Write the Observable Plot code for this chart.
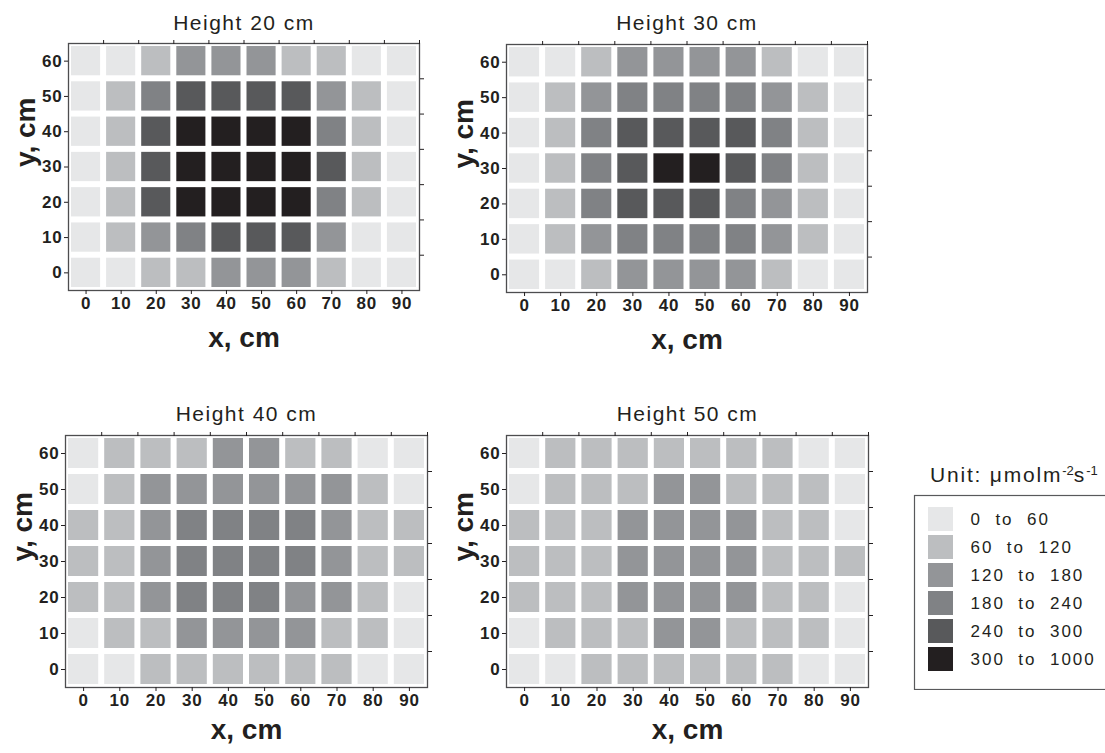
<!DOCTYPE html>
<html>
<head>
<meta charset="utf-8">
<script src="https://cdn.jsdelivr.net/npm/d3@7"></script>
<script src="https://cdn.jsdelivr.net/npm/@observablehq/plot@0.6"></script>
<style>
  html, body { margin: 0; padding: 0; background: #fff; overflow: hidden; }
  #root { position: relative; width: 1105px; height: 753px; overflow: hidden; background: #fff;
          font-family: "Liberation Sans", Arial, sans-serif; color: #231f20; }
  .pos { position: absolute; }
  #unit { position: absolute; left: 930px; top: 463px; font-size: 21px; letter-spacing: 1.8px; white-space: nowrap; }
  #unit sup { font-size: 13px; vertical-align: 7px; letter-spacing: 0; }
</style>
</head>
<body>
<div id="root"><div id="unit">Unit: μmolm<sup>-2</sup>s<sup>-1</sup></div></div>
<script>
// ---- data ----
const xs = [0, 10, 20, 30, 40, 50, 60, 70, 80, 90];
const ys = [60, 50, 40, 30, 20, 10, 0];            // rows top to bottom
const xTicks = [0, 10, 20, 30, 40, 50, 60, 70, 80, 90];
const yTicks = [0, 10, 20, 30, 40, 50, 60];
const topTicks = [5, 15, 25, 35, 45, 55, 65, 75, 85, 95];
const rightTicks = [5, 15, 25, 35, 45, 55];
const levelLabels = ["0  to  60", "60  to  120", "120  to  180", "180  to  240", "240  to  300", "300  to  1000"];
const levelColors = ["#e6e7e8", "#bcbec0", "#939598", "#808285", "#58595b", "#231f20"];
const titles = ["Height 20 cm", "Height 30 cm", "Height 40 cm", "Height 50 cm"];

// level index (0..5) per cell, rows y=60 .. y=0, columns x=0 .. 90
const h20 = [
  [0,0,1,2,2,2,1,1,0,0],
  [0,1,3,4,4,4,4,2,1,0],
  [0,1,4,5,5,5,5,3,1,0],
  [0,1,4,5,5,5,5,4,1,0],
  [0,1,4,5,5,5,5,3,1,0],
  [0,1,2,3,4,4,4,2,0,0],
  [0,0,1,1,2,2,2,1,0,0]
];
const h30 = [
  [0,0,1,2,2,2,2,1,0,0],
  [0,1,2,3,3,3,3,2,1,0],
  [0,1,3,4,4,4,4,3,1,0],
  [0,1,3,4,5,5,4,3,1,0],
  [0,1,3,4,4,4,3,2,1,0],
  [0,1,2,3,3,3,3,2,1,0],
  [0,0,1,2,2,2,2,1,0,0]
];
const h40 = [
  [0,1,1,1,2,2,1,1,0,0],
  [0,1,2,2,2,2,2,2,1,0],
  [1,1,2,3,3,3,3,2,1,1],
  [1,1,2,3,3,3,3,2,1,1],
  [1,1,2,3,3,3,2,2,1,0],
  [0,1,1,2,2,2,2,1,1,0],
  [0,0,1,1,1,1,1,1,0,0]
];
const h50 = [
  [0,1,1,1,1,1,1,1,0,0],
  [0,1,1,1,2,2,1,1,1,0],
  [1,1,1,2,2,2,2,1,1,0],
  [1,1,1,2,2,2,2,1,1,1],
  [1,1,1,2,2,2,2,1,1,0],
  [0,1,1,1,2,2,1,1,1,0],
  [0,0,1,1,1,1,1,1,0,0]
];

const FONT = "'Liberation Sans', Arial, sans-serif";
const colorScale = {type: "ordinal", domain: levelLabels, range: levelColors};

function toCells(grid) {
  return grid.flatMap((row, i) => row.map((lv, j) => ({x: xs[j], y: ys[i], level: levelLabels[lv]})));
}

function panel(grid, title, L) {
  const svg = Plot.plot({
    width: L.width, height: L.height,
    marginLeft: L.ml, marginRight: L.mr, marginTop: L.mt, marginBottom: L.mb,
    x: {domain: [-5, 95], label: null},
    y: {domain: [-5, 65], label: null},
    color: colorScale,
    style: {fontFamily: FONT, fontSize: "17px", color: "#231f20", background: "white", overflow: "visible"},
    marks: [
      Plot.rect(toCells(grid), {x1: d => d.x - 5, x2: d => d.x + 5, y1: d => d.y - 5, y2: d => d.y + 5, fill: "level", inset: 3}),
      Plot.frame({stroke: "#4d4d4f", strokeWidth: 1.3}),
      Plot.axisX(xTicks, {anchor: "bottom", tickSize: 4, tickPadding: 2, fontWeight: "bold", fontSize: 17, label: null}),
      Plot.axisX(topTicks, {anchor: "top", tickSize: 4, tickFormat: () => "", label: null}),
      Plot.axisY(yTicks, {anchor: "left", tickSize: 4, tickPadding: 2, fontWeight: "bold", fontSize: 17, label: null}),
      Plot.axisY(rightTicks, {anchor: "right", tickSize: 4, tickFormat: () => "", label: null}),
      Plot.text([title], {text: d => d, frameAnchor: "top", lineAnchor: "middle", dy: L.titleDy, fontSize: 21}),
      Plot.text(["x, cm"], {text: d => d, frameAnchor: "bottom", lineAnchor: "middle", dy: L.xlabDy, fontSize: 28, fontWeight: "bold"}),
      Plot.text(["y, cm"], {text: d => d, frameAnchor: "left", lineAnchor: "middle", dx: -42, rotate: -90, fontSize: 28, fontWeight: "bold"})
    ]
  });
  svg.querySelectorAll("text").forEach(t => {
    const s = t.textContent;
    if (s === title) t.style.letterSpacing = "1.5px";
    else if (/^\d+$/.test(s)) { t.style.letterSpacing = "0.8px"; t.style.fontSize = "17px"; t.style.fontWeight = "bold"; }
  });
  svg.classList.add("pos");
  svg.style.left = L.left + "px";
  svg.style.top = L.top + "px";
  document.getElementById("root").appendChild(svg);
}

panel(h20, titles[0], {left: 0,   top: 0,   width: 440, height: 360, ml: 68, mr: 21, mt: 43, mb: 70, titleDy: -20, xlabDy: 48});
panel(h30, titles[1], {left: 440, top: 0,   width: 440, height: 360, ml: 66, mr: 13, mt: 44, mb: 68, titleDy: -21, xlabDy: 48});
panel(h40, titles[2], {left: 0,   top: 380, width: 440, height: 373, ml: 65, mr: 13, mt: 55, mb: 66, titleDy: -21, xlabDy: 43});
panel(h50, titles[3], {left: 440, top: 380, width: 440, height: 373, ml: 66, mr: 12, mt: 55, mb: 66, titleDy: -21, xlabDy: 43});

// ---- legend ----
const legend = Plot.plot({
  width: 200, height: 196,
  marginLeft: 1, marginRight: 1, marginTop: 1, marginBottom: 1,
  x: {type: "band", domain: ["swatch"], range: [15, 40], padding: 0, axis: null},
  y: {type: "band", domain: levelLabels, range: [9, 181], paddingInner: 4 / 28, paddingOuter: 4 / 28, axis: null},
  color: colorScale,
  style: {fontFamily: FONT, fontSize: "17px", color: "#231f20", background: "white"},
  marks: [
    Plot.frame({stroke: "#58595b", strokeWidth: 1.2}),
    Plot.cell(levelLabels, {x: () => "swatch", y: d => d, fill: d => d}),
    Plot.text(levelLabels, {x: () => "swatch", y: d => d, text: d => d, dx: 29.5, textAnchor: "start", fontSize: 17})
  ]
});
legend.querySelectorAll("text").forEach(t => { t.style.whiteSpace = "pre"; t.style.letterSpacing = "2px"; });
legend.classList.add("pos");
legend.style.left = "913px";
legend.style.top = "494px";
document.getElementById("root").appendChild(legend);
</script>
</body>
</html>
